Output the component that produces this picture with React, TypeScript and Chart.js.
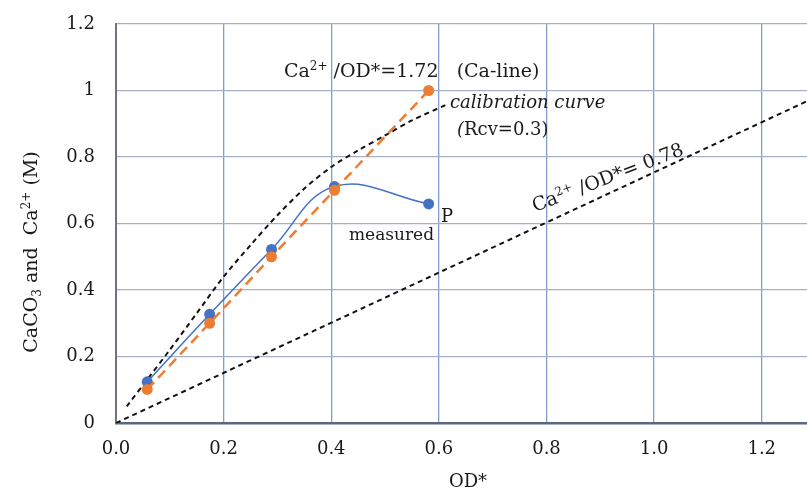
import React, { useEffect, useRef } from "react";
import { Chart, registerables } from "chart.js";

Chart.register(...registerables);

// Measured (blue) and Ca-line (orange) data
const odX = [0.058, 0.174, 0.289, 0.406, 0.581];
const measuredY = [0.124, 0.327, 0.522, 0.711, 0.659];
const caLineY = [0.101, 0.3, 0.5, 0.7, 1.0];

// Calibration curve (black dashed)
const calX = [0.02, 0.06, 0.1, 0.15, 0.2, 0.25, 0.3, 0.35, 0.4, 0.45, 0.5, 0.55, 0.612];
const calY = [0.05, 0.135, 0.22, 0.33, 0.44, 0.535, 0.625, 0.705, 0.77, 0.82, 0.865, 0.91, 0.956];

// Ca2+/OD* = 0.78 line
const refX = [0, 1.3];
const refY = [0, 0.98];

const xTicks = [0, 0.2, 0.4, 0.6, 0.8, 1.0, 1.2];
const yTicks = [0, 0.2, 0.4, 0.6, 0.8, 1.0, 1.2];

const FONT = "'DejaVu Serif', serif";
const TXT = "#1a1a1a";

type Seg = { t: string; s: number; dy?: number; it?: boolean };

function drawRich(ctx: CanvasRenderingContext2D, x: number, y: number, segs: Seg[], color = TXT) {
  let cx = x;
  ctx.fillStyle = color;
  ctx.textBaseline = "alphabetic";
  ctx.textAlign = "left";
  for (const sg of segs) {
    ctx.font = `${sg.it ? "italic " : ""}${sg.s}px ${FONT}`;
    ctx.fillText(sg.t, cx, y + (sg.dy || 0));
    cx += ctx.measureText(sg.t).width;
  }
  return cx - x;
}

function richWidth(ctx: CanvasRenderingContext2D, segs: Seg[]) {
  let w = 0;
  for (const sg of segs) {
    ctx.font = `${sg.it ? "italic " : ""}${sg.s}px ${FONT}`;
    w += ctx.measureText(sg.t).width;
  }
  return w;
}

const annotations = {
  id: "annotations",
  afterDraw(chart: any) {
    const ctx: CanvasRenderingContext2D = chart.ctx;
    ctx.save();
    // Ca-line label
    drawRich(ctx, 284, 77, [
      { t: "Ca", s: 19 },
      { t: "2+", s: 12, dy: -7 },
      { t: " /OD*=1.72", s: 19 },
      { t: "   (Ca-line)", s: 19 },
    ]);
    drawRich(ctx, 450, 108, [{ t: "calibration curve", s: 18, it: true }]);
    drawRich(ctx, 457, 135, [{ t: "(", s: 18, it: true }, { t: "Rcv=0.3)", s: 18 }]);
    drawRich(ctx, 441, 222, [{ t: "P", s: 18 }]);
    drawRich(ctx, 349, 240, [{ t: "measured", s: 17 }]);

    // rotated 0.78 label
    ctx.save();
    ctx.translate(535, 212);
    ctx.rotate((-21 * Math.PI) / 180);
    drawRich(ctx, 0, 0, [
      { t: "Ca", s: 19 },
      { t: "2+", s: 12, dy: -7 },
      { t: " /OD*= 0.78", s: 19 },
    ]);
    ctx.restore();

    // y axis title
    const ySegs: Seg[] = [
      { t: "CaCO", s: 19 },
      { t: "3", s: 12, dy: 4 },
      { t: " and  Ca", s: 19 },
      { t: "2+", s: 12, dy: -7 },
      { t: " (M)", s: 19 },
    ];
    ctx.save();
    ctx.translate(37, 252);
    ctx.rotate(-Math.PI / 2);
    const w = richWidth(ctx, ySegs);
    drawRich(ctx, -w / 2, 0, ySegs);
    ctx.restore();

    // x axis title
    const xSegs: Seg[] = [{ t: "OD*", s: 18 }];
    const xw = richWidth(ctx, xSegs);
    drawRich(ctx, 468 - xw / 2, 487, xSegs);
    ctx.restore();
  },
};

export default function App() {
  const ref = useRef<HTMLCanvasElement | null>(null);
  useEffect(() => {
    if (!ref.current) return;
    const pts = (xs: number[], ys: number[]) => xs.map((x, i) => ({ x, y: ys[i] }));
    const chart = new Chart(ref.current, {
      type: "scatter",
      data: {
        datasets: [
          {
            label: "Ca-line",
            data: pts(odX, caLineY),
            showLine: true,
            borderColor: "#ed7d31",
            backgroundColor: "#ed7d31",
            borderWidth: 2.5,
            borderDash: [10, 6],
            pointRadius: 5.5,
            pointBorderWidth: 0,
            order: 0,
          },
          {
            label: "measured",
            data: pts(odX, measuredY),
            showLine: true,
            borderColor: "#4472c4",
            backgroundColor: "#4472c4",
            borderWidth: 1.5,
            tension: 0.4,
            pointRadius: 5.5,
            pointBorderWidth: 0,
            order: 1,
          },
          {
            label: "calibration curve",
            data: pts(calX, calY),
            showLine: true,
            borderColor: "#111",
            borderWidth: 2,
            borderDash: [5, 4],
            tension: 0.3,
            pointRadius: 0,
            order: 2,
          },
          {
            label: "0.78",
            data: pts(refX, refY),
            showLine: true,
            borderColor: "#111",
            borderWidth: 2,
            borderDash: [5, 4],
            pointRadius: 0,
            order: 3,
          },
        ],
      },
      options: {
        animation: false,
        responsive: false,
        maintainAspectRatio: false,
        layout: { padding: { top: 24, right: 0, left: 0, bottom: 0 } },
        plugins: { legend: { display: false }, tooltip: { enabled: false } },
        scales: {
          x: {
            type: "linear",
            min: 0,
            max: 1.285,
            afterBuildTicks: (s: any) => {
              s.ticks = xTicks.map((v) => ({ value: v }));
            },
            afterFit: (s: any) => {
              s.height = 72;
              s.paddingLeft = 0;
              s.paddingRight = 0;
            },
            ticks: {
              padding: 16,
              color: TXT,
              font: { family: FONT, size: 18 },
              callback: (v: any) => Number(v).toFixed(1),
            },
            grid: { color: "#819dc9", lineWidth: 1.3, drawTicks: false },
            border: { color: "#5a6782", width: 2.5 },
          },
          y: {
            type: "linear",
            min: 0,
            max: 1.2,
            afterBuildTicks: (s: any) => {
              s.ticks = yTicks.map((v) => ({ value: v }));
            },
            afterFit: (s: any) => {
              s.width = 116;
              s.paddingTop = 0;
              s.paddingBottom = 0;
            },
            ticks: {
              padding: 21,
              color: TXT,
              font: { family: FONT, size: 18 },
              callback: (v: any) => String(Number(Number(v).toFixed(1))),
            },
            grid: { color: "#a3b0c6", lineWidth: 1.3, drawTicks: false },
            border: { color: "#6b7385", width: 2 },
          },
        },
      },
      plugins: [annotations],
    });
    return () => chart.destroy();
  }, []);
  return (
    <div style={{ position: "fixed", left: 0, top: 0, width: 807, height: 495, overflow: "hidden", background: "#fff" }}>
      <canvas ref={ref} width={813} height={495} style={{ width: 813, height: 495, display: "block" }} />
    </div>
  );
}
